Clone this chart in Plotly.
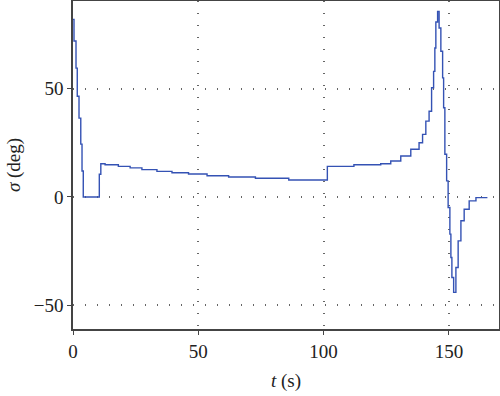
import plotly.graph_objects as go

t = [0.0, 0.4, 1.2, 1.7, 2.4, 3.1, 3.6, 4.1, 10.5, 11.1, 12.8, 18.1, 22.8, 27.5, 33.5, 39.5,
     46.1, 53.5, 62.1, 72.8, 86.1, 101.5, 112.1, 122.8, 126.8, 130.8, 134.8, 138.1, 139.5,
     140.8, 142.1, 143.1, 143.9, 144.4, 144.8, 145.5, 146.1, 146.8, 147.5, 147.9, 148.4,
     149.1, 149.7, 150.4, 150.8, 151.2, 151.9, 152.8, 153.7, 154.8, 156.1, 158.1, 160.8, 165.1]
sigma = [82, 72, 59.5, 46.5, 36.4, 24.4, 12, 0, 10.5, 15.3, 14.9, 14.1, 13.4, 12.6, 11.8, 11.2,
         10.6, 9.8, 9.2, 8.6, 7.8, 14.1, 14.9, 15.3, 16.6, 18.9, 22, 25, 28.9,
         35, 39.6, 50.4, 58, 68.8, 80.8, 85.7, 78, 67.3, 55, 41.2, 19.7,
         7.4, -4.9, -17.2, -28, -37.2, -44.1, -32.6, -20.3, -11, -5.7, -1.8, -0.3, 0]

x_ticks = [0, 50, 100, 150]
y_ticks = [-50, 0, 50]
y_tick_labels = ["\u221250", "0", "50"]

fig = go.Figure()
fig.add_trace(go.Scatter(x=t, y=sigma, mode="lines", line=dict(color="#3452b4", width=1.4, shape="hv"),
                         showlegend=False))

font = dict(family="Liberation Serif, 'Times New Roman', Times, 'DejaVu Serif', serif", size=19, color="#222")
common = dict(showline=True, mirror=True, linecolor="#444", linewidth=1.5,
              ticks="outside", ticklen=4, tickcolor="#444", tickwidth=1.2,
              showgrid=True, gridcolor="#666", gridwidth=1.5, griddash="1px,11px",
              zeroline=False, tickfont=font, automargin=False)

fig.update_xaxes(range=[0, 170], tickvals=x_ticks, title=dict(text="<i>t</i> (s)", font=font, standoff=13), **common)
fig.update_yaxes(range=[-61, 90.5], tickvals=y_ticks, ticktext=y_tick_labels,
                 title=dict(text="<i>σ</i> (deg)", font=font, standoff=8), **common)

fig.update_layout(width=500, height=396, margin=dict(l=73, r=1, t=1, b=67),
                  plot_bgcolor="white", paper_bgcolor="white", font=font)
fig.write_html("out.html", config={"displayModeBar": False},
               post_script="document.body.style.margin='0';document.body.style.padding='0';")
